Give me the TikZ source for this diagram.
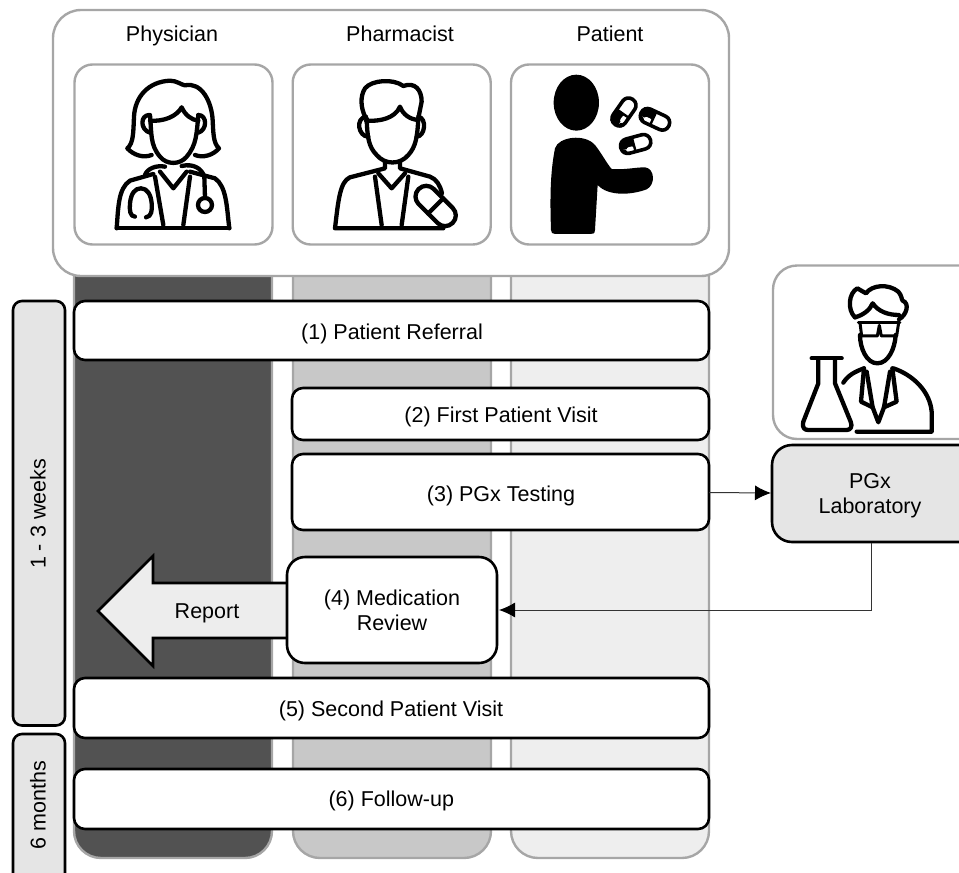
\documentclass[tikz,border=0pt]{standalone}
\usepackage{fontspec}
\setmainfont{Liberation Sans}
\usetikzlibrary{arrows.meta}
\definecolor{gb}{HTML}{A6A6A6}
\definecolor{lanea}{HTML}{525252}
\definecolor{laneb}{HTML}{C8C8C8}
\definecolor{lanec}{HTML}{EEEEEE}
\definecolor{lgr}{HTML}{E5E5E5}
\definecolor{rep}{HTML}{EDEDED}
\tikzset{
 lbl/.style={font=\fontsize{21.5}{25}\selectfont,align=center,inner sep=0pt,outer sep=0pt,text=black},
 bar/.style={lbl,draw=black,line width=2.6pt,fill=white,rounded corners=11pt,anchor=north west},
 side/.style={draw=black,line width=2.6pt,fill=lgr,rounded corners=9pt},
 pic box/.style={draw=gb,line width=2.4pt,fill=white,rounded corners=18pt,outer sep=0pt,anchor=north west,minimum width=198pt,minimum height=180pt},
 lane/.style={draw=gb,line width=2.4pt,rounded corners=27pt},
 ico/.style={line width=4.3pt,line cap=round,line join=round,draw=black},
 conn/.style={line width=1pt,draw=black!80,-{Latex[length=16pt,width=15pt,black]}},
}
\begin{document}
\begin{tikzpicture}[x=1pt,y=-1pt]
\useasboundingbox (0,0) rectangle (959,873);
% lanes
\draw[lane,fill=lanea] (74,200) rectangle (272,858);
\draw[lane,fill=laneb] (293,200) rectangle (491,858);
\draw[lane,fill=lanec] (511,200) rectangle (709,858);
% header
\draw[draw=gb,line width=2.4pt,fill=white,rounded corners=28pt] (53,10) rectangle (729,276);
\node[pic box] (b1) at (74.5,64.5) {};
\node[pic box] (b2) at (292.7,64.5) {};
\node[pic box] (b3) at (511,64.5) {};
\node[lbl,anchor=base] (t1) at (172,41) {Physician};
\node[lbl,anchor=base] (t2) at (400,41) {Pharmacist};
\node[lbl,anchor=base] (t3) at (610,41) {Patient};
% physician icon
\begin{scope}[shift={(70,60)},x=0.3333pt,y=-0.3333pt,ico]
\draw (245,285) .. controls (220,295) and (190,285) .. (172,265) .. controls (190,250) and (190,220) .. (192,170) .. controls (195,110) and (235,65) .. (300,62) .. controls (320,62) and (335,75) .. (345,76) .. controls (395,65) and (425,125) .. (428,180) .. controls (430,220) and (430,250) .. (447,265) .. controls (430,285) and (400,295) .. (375,285);
\draw (240,182) .. controls (280,185) and (320,170) .. (335,142) .. controls (345,165) and (365,180) .. (385,182);
\draw (240,165) .. controls (245,220) and (240,255) .. (270,290) .. controls (290,315) and (330,315) .. (350,290) .. controls (380,255) and (380,220) .. (385,165);
\draw (238,165) .. controls (210,165) and (210,210) .. (240,218);
\draw (385,165) .. controls (412,165) and (412,210) .. (385,218);
\draw (225,345) .. controls (232,325) and (260,315) .. (285,320);
\draw (335,318) .. controls (370,310) and (395,325) .. (403,350) -- (405,412);
\draw (405,435) circle[radius=21];
\draw (140,505) -- (478,505);
\draw (140,505) .. controls (145,440) and (145,385) .. (180,362) -- (250,342);
\draw (478,505) .. controls (470,440) and (470,380) .. (435,355) -- (360,335);
\draw (255,350) -- (280,495);
\draw (360,350) -- (340,495);
\draw (270,335) -- (310,385) -- (350,335);
\draw (195,470) .. controls (180,470) and (178,450) .. (180,430) .. controls (183,400) and (195,385) .. (213,385) .. controls (232,385) and (243,405) .. (245,430) .. controls (247,450) and (245,470) .. (228,472);
\end{scope}
% pharmacist icon
\begin{scope}[shift={(290,60)},x=0.3333pt,y=-0.3333pt,ico]
\draw (225,170) .. controls (212,140) and (210,110) .. (225,85) .. controls (245,60) and (310,55) .. (340,78) .. controls (375,65) and (395,90) .. (395,125) -- (385,175);
\draw (228,182) .. controls (270,185) and (315,175) .. (330,140) .. controls (340,165) and (360,178) .. (385,180);
\draw (230,175) .. controls (232,230) and (235,260) .. (260,285) .. controls (285,315) and (330,315) .. (355,285) .. controls (378,260) and (382,230) .. (385,175);
\draw (228,170) .. controls (195,175) and (205,230) .. (235,230);
\draw (385,170) .. controls (412,175) and (405,230) .. (380,230);
\draw (285,308) -- (285,325) -- (180,352) .. controls (150,365) and (145,420) .. (135,505) -- (460,505);
\draw (330,308) -- (330,325) -- (420,350) .. controls (440,358) and (450,375) .. (456,400);
\draw (255,350) -- (275,495);
\draw (355,350) -- (335,495);
\draw (265,340) -- (305,385) -- (345,340);
\begin{scope}[shift={(437,438)},rotate=-45]
\draw[fill=white,rounded corners=10.5pt] (-72,-32) rectangle (72,32);
\draw (0,-32) -- (0,32);
\end{scope}
\end{scope}
% patient icon
\begin{scope}[shift={(505,60)},x=0.3333pt,y=-0.3333pt]
\fill (214,128) ellipse[x radius=68,y radius=84];
\fill (138,510) .. controls (135,420) and (135,340) .. (150,265) .. controls (160,230) and (240,220) .. (270,255) .. controls (290,280) and (305,310) .. (320,327) .. controls (360,330) and (390,322) .. (420,322) .. controls (450,325) and (452,375) .. (425,388) .. controls (380,405) and (310,410) .. (278,375) -- (270,510) .. controls (270,522) and (262,522) .. (255,522) -- (150,522) .. controls (142,522) and (138,518) .. (138,510) -- cycle;
\foreach \cx/\cy/\a in {357/156/55,450/178/-25,392/252/15}{
 \begin{scope}[shift={(\cx,\cy)},rotate=\a]
 \draw[line width=3.6pt,rounded corners=7pt,fill=white] (-46,-22) rectangle (46,22);
 \fill[rounded corners=3pt] (-46,-22) rectangle (-6,8);
 \fill[rounded corners=3pt] (-46,8) rectangle (-30,22);
 \fill[white,rounded corners=2pt] (-30,4) rectangle (-8,15);
 \draw[line width=2.4pt] (-6,-22) -- (-6,22);
 \end{scope}
}
\end{scope}
% bars
\node[bar,minimum width=635pt,minimum height=59pt] (s1) at (74,301) {};
\node[lbl,anchor=base] (s1t) at (392,339.5) {(1) Patient Referral};
\node[bar,minimum width=417pt,minimum height=52pt] (s2) at (292,388) {};
\node[lbl,anchor=base] (s2t) at (501,422.5) {(2) First Patient Visit};
\node[bar,minimum width=417pt,minimum height=76pt] (s3) at (292,454) {};
\node[lbl,anchor=base] (s3t) at (501,501.5) {(3) PGx Testing};
\node[bar,minimum width=635pt,minimum height=60pt] (s5) at (74,678) {};
\node[lbl,anchor=base] (s5t) at (391,716) {(5) Second Patient Visit};
\node[bar,minimum width=635pt,minimum height=60pt] (s6) at (74,769) {};
\node[lbl,anchor=base] (s6t) at (391.3,806) {(6) Follow-up};
% report arrow
\draw[draw=black,line width=2.6pt,fill=rep,line join=miter] (98,611) -- (153,556) -- (153,583) -- (290,583) -- (290,638) -- (153,638) -- (153,666) -- cycle;
\node[lbl] (rep) at (207,613) {Report};
\node[bar,minimum width=210pt,minimum height=106pt,rounded corners=18pt] (s4) at (287,557) {(4) Medication\\Review};
% side
\draw[side] (13,301) rectangle (65,725.5);
\node[lbl,rotate=90] (w1) at (38,514) {1 - 3 weeks};
\draw[side] (13,734) rectangle (65,890);
\node[lbl,rotate=90] (w2) at (38,805) {6 months};
% lab
\draw[draw=gb,line width=2.4pt,fill=white,rounded corners=24pt] (773,265.5) rectangle (985,439);
\begin{scope}[shift={(760,260)},x=0.3333pt,y=-0.3333pt,ico]
\draw (155,295) -- (245,295);
\draw (175,295) -- (175,370) -- (130,485) .. controls (125,505) and (135,510) .. (145,510) -- (260,510) .. controls (272,510) and (278,500) .. (272,485) -- (225,370) -- (225,295);
\draw (290,515) -- (515,515) -- (515,455) .. controls (510,395) and (460,345) .. (400,325);
\draw (250,368) .. controls (265,345) and (285,335) .. (312,325);
\draw (312,325) -- (303,425) -- (338,442) -- (355,487) -- (372,442) -- (410,425) -- (397,325);
\draw (320,335) -- (338,442);
\draw (390,335) -- (372,442);
\draw (300,225) .. controls (300,265) and (320,310) .. (352,310) .. controls (385,310) and (405,265) .. (407,225);
\draw (285,172) .. controls (262,150) and (265,100) .. (292,85) -- (318,100) .. controls (335,75) and (385,70) .. (415,95) .. controls (425,105) and (425,120) .. (428,122) .. controls (450,130) and (440,165) .. (417,178);
\draw (285,172) .. controls (310,165) and (330,150) .. (338,130) .. controls (355,155) and (385,165) .. (417,165);
\draw[line width=3pt] (295,188) -- (420,188);
\draw[line width=3pt] (300,188) -- (305,228) -- (352,228) -- (358,196) -- (364,228) -- (410,228) -- (416,188);
\end{scope}
\node[draw=black,line width=2.6pt,fill=lgr,rounded corners=20pt,minimum width=213pt,minimum height=97pt,anchor=north west,outer sep=0pt] (labbox) at (772,445) {};
\node[lbl] (labt) at (870,496) {PGx\\Laboratory};
% connectors
\coordinate (c1) at (709,492.5);
\coordinate (c2) at (871,543);
\coordinate (c3) at (771,493);
\coordinate (c4) at (499,610);
\draw[conn] (c1) -- (c3);
\draw[conn] (c2) |- (c4);
\end{tikzpicture}
\end{document}
